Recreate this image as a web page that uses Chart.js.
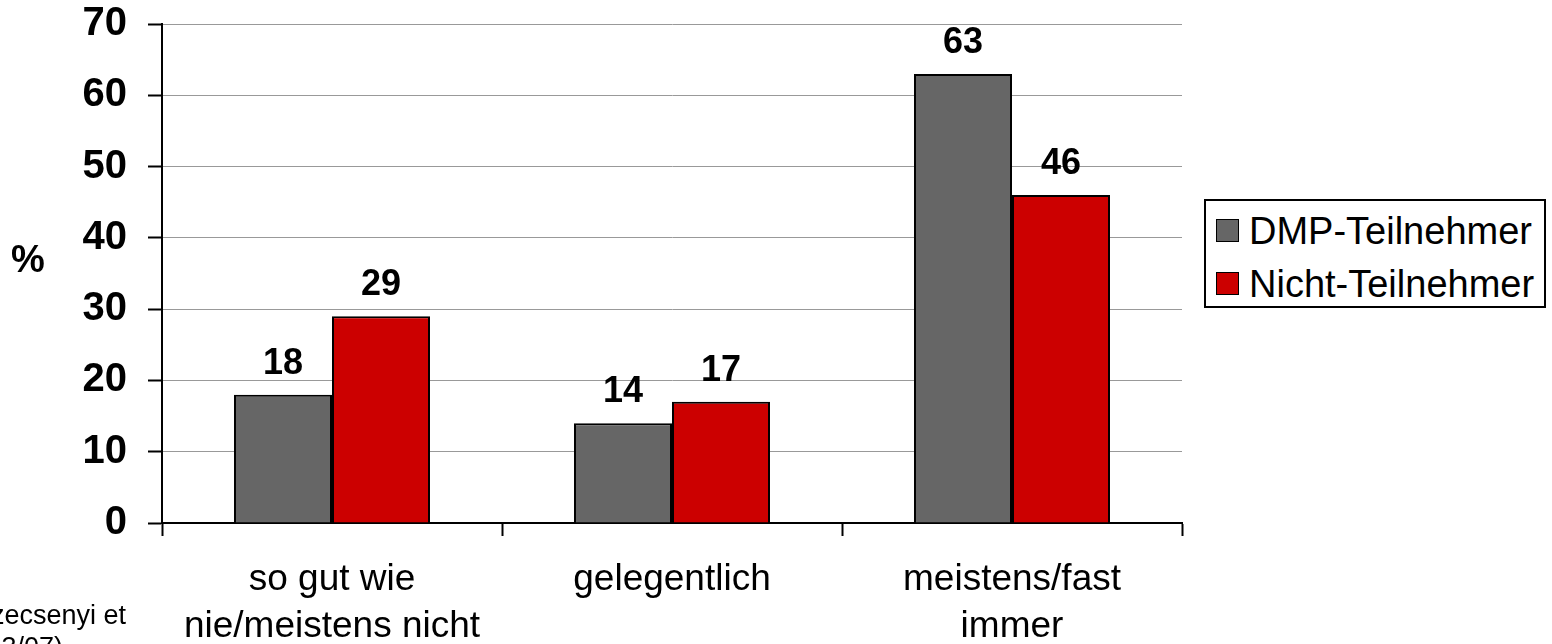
<!DOCTYPE html>
<html lang="de">
<head>
<meta charset="utf-8">
<title>DMP-Teilnehmer / Nicht-Teilnehmer</title>
<script src="https://cdn.jsdelivr.net/npm/chart.js@4.4.1/dist/chart.umd.min.js"></script>
<style>
  html, body { margin: 0; padding: 0; background: #fff; }
  body {
    width: 1552px; height: 644px; position: relative; overflow: hidden;
    font-family: 'Liberation Sans', Arial, sans-serif; color: #000;
  }
  #grafico { position: absolute; left: 0; top: 0; }
  .titulo-eixo {
    position: absolute; left: 11px; top: 240px;
    font-size: 38px; line-height: 38px; font-weight: bold;
  }
  #legenda {
    position: absolute; left: 1204px; top: 199px; width: 342px; height: 109px;
    box-sizing: border-box; border: 2px solid #000; background: #fff;
  }
  .item-legenda { position: absolute; left: 0; height: 38px; white-space: nowrap; }
  .item-legenda .cor {
    position: absolute; left: 10px; width: 23px; height: 23px;
    box-sizing: border-box; border: 1px solid #000;
  }
  .item-legenda .texto {
    position: absolute; left: 43px; top: 0;
    font-size: 38px; line-height: 38px;
  }
  .fonte {
    position: absolute; font-size: 27px; line-height: 27px;
    white-space: nowrap; text-align: right;
  }
</style>
</head>
<body>
<canvas id="grafico" width="1552" height="644"></canvas>
<div class="titulo-eixo">%</div>
<div id="legenda"></div>
<div class="fonte" style="right: 1426px; top: 602px;">Szecsenyi et</div>
<div class="fonte" style="right: 1489px; top: 634px;">13/07)</div>
<script>
  // categorias e valores (%)
  const categorias = [['so gut wie', 'nie/meistens nicht'], 'gelegentlich', ['meistens/fast', 'immer']]
  const nomesSeries = ['DMP-Teilnehmer', 'Nicht-Teilnehmer']
  const dmpTeilnehmer = [18, 14, 63]
  const nichtTeilnehmer = [29, 17, 46]
  const coresSeries = ['#666666', '#cc0000']
  const eixoYMin = 0
  const eixoYMax = 70
  const eixoYPasso = 10

  const fonte = "'Liberation Sans', Arial, sans-serif"

  // escreve o valor em cima de cada barra
  const rotulosValores = {
    id: 'rotulosValores',
    afterDatasetsDraw(chart) {
      const ctx = chart.ctx
      ctx.save()
      ctx.font = `bold 36px ${fonte}`
      ctx.fillStyle = '#000'
      ctx.textAlign = 'center'
      ctx.textBaseline = 'alphabetic'
      chart.data.datasets.forEach((ds, i) => {
        chart.getDatasetMeta(i).data.forEach((barra, j) => {
          ctx.fillText(String(ds.data[j]), barra.x, barra.y - 21)
        })
      })
      ctx.restore()
    }
  }

  const grafico = new Chart(document.getElementById('grafico'), {
    type: 'bar',
    data: {
      labels: categorias,
      datasets: [
        {
          label: nomesSeries[0],
          data: dmpTeilnehmer,
          backgroundColor: coresSeries[0],
          borderColor: '#000',
          borderWidth: 2
        },
        {
          label: nomesSeries[1],
          data: nichtTeilnehmer,
          backgroundColor: coresSeries[1],
          borderColor: '#000',
          borderWidth: 2
        }
      ]
    },
    options: {
      responsive: false,
      animation: false,
      layout: { padding: { top: 24, right: 370, left: 0, bottom: 0 } },
      datasets: { bar: { categoryPercentage: 0.5765, barPercentage: 1 } },
      plugins: {
        legend: { display: false },
        tooltip: { enabled: false }
      },
      scales: {
        x: {
          grid: { drawOnChartArea: false, offset: true, tickLength: 13, tickColor: '#000', tickWidth: 2 },
          border: { color: '#000', width: 2 },
          ticks: {
            color: '#000',
            font: { family: fonte, size: 37, lineHeight: 47 / 37 },
            padding: 20,
            maxRotation: 0,
            autoSkip: false
          },
          afterFit: (escala) => { escala.height = 121 }
        },
        y: {
          min: eixoYMin,
          max: eixoYMax,
          ticks: {
            stepSize: eixoYPasso,
            color: '#000',
            font: { family: fonte, size: 40, weight: 'bold' },
            padding: 21
          },
          grid: { color: '#999999', lineWidth: 1, tickLength: 14, tickColor: '#000', tickWidth: 2 },
          border: { color: '#000', width: 2 },
          afterFit: (escala) => {
            escala.width = 162
            escala.paddingTop = 0
            escala.paddingBottom = 0
          }
        }
      }
    },
    plugins: [rotulosValores]
  })

  // legenda montada a partir dos datasets
  const legenda = document.getElementById('legenda')
  const topoItens = [11, 64]
  grafico.data.datasets.forEach((ds, i) => {
    const item = document.createElement('div')
    item.className = 'item-legenda'
    item.style.top = topoItens[i] + 'px'
    const cor = document.createElement('span')
    cor.className = 'cor'
    cor.style.top = '7px'
    cor.style.background = ds.backgroundColor
    const texto = document.createElement('span')
    texto.className = 'texto'
    texto.textContent = ds.label
    item.appendChild(cor)
    item.appendChild(texto)
    legenda.appendChild(item)
  })
</script>
</body>
</html>
